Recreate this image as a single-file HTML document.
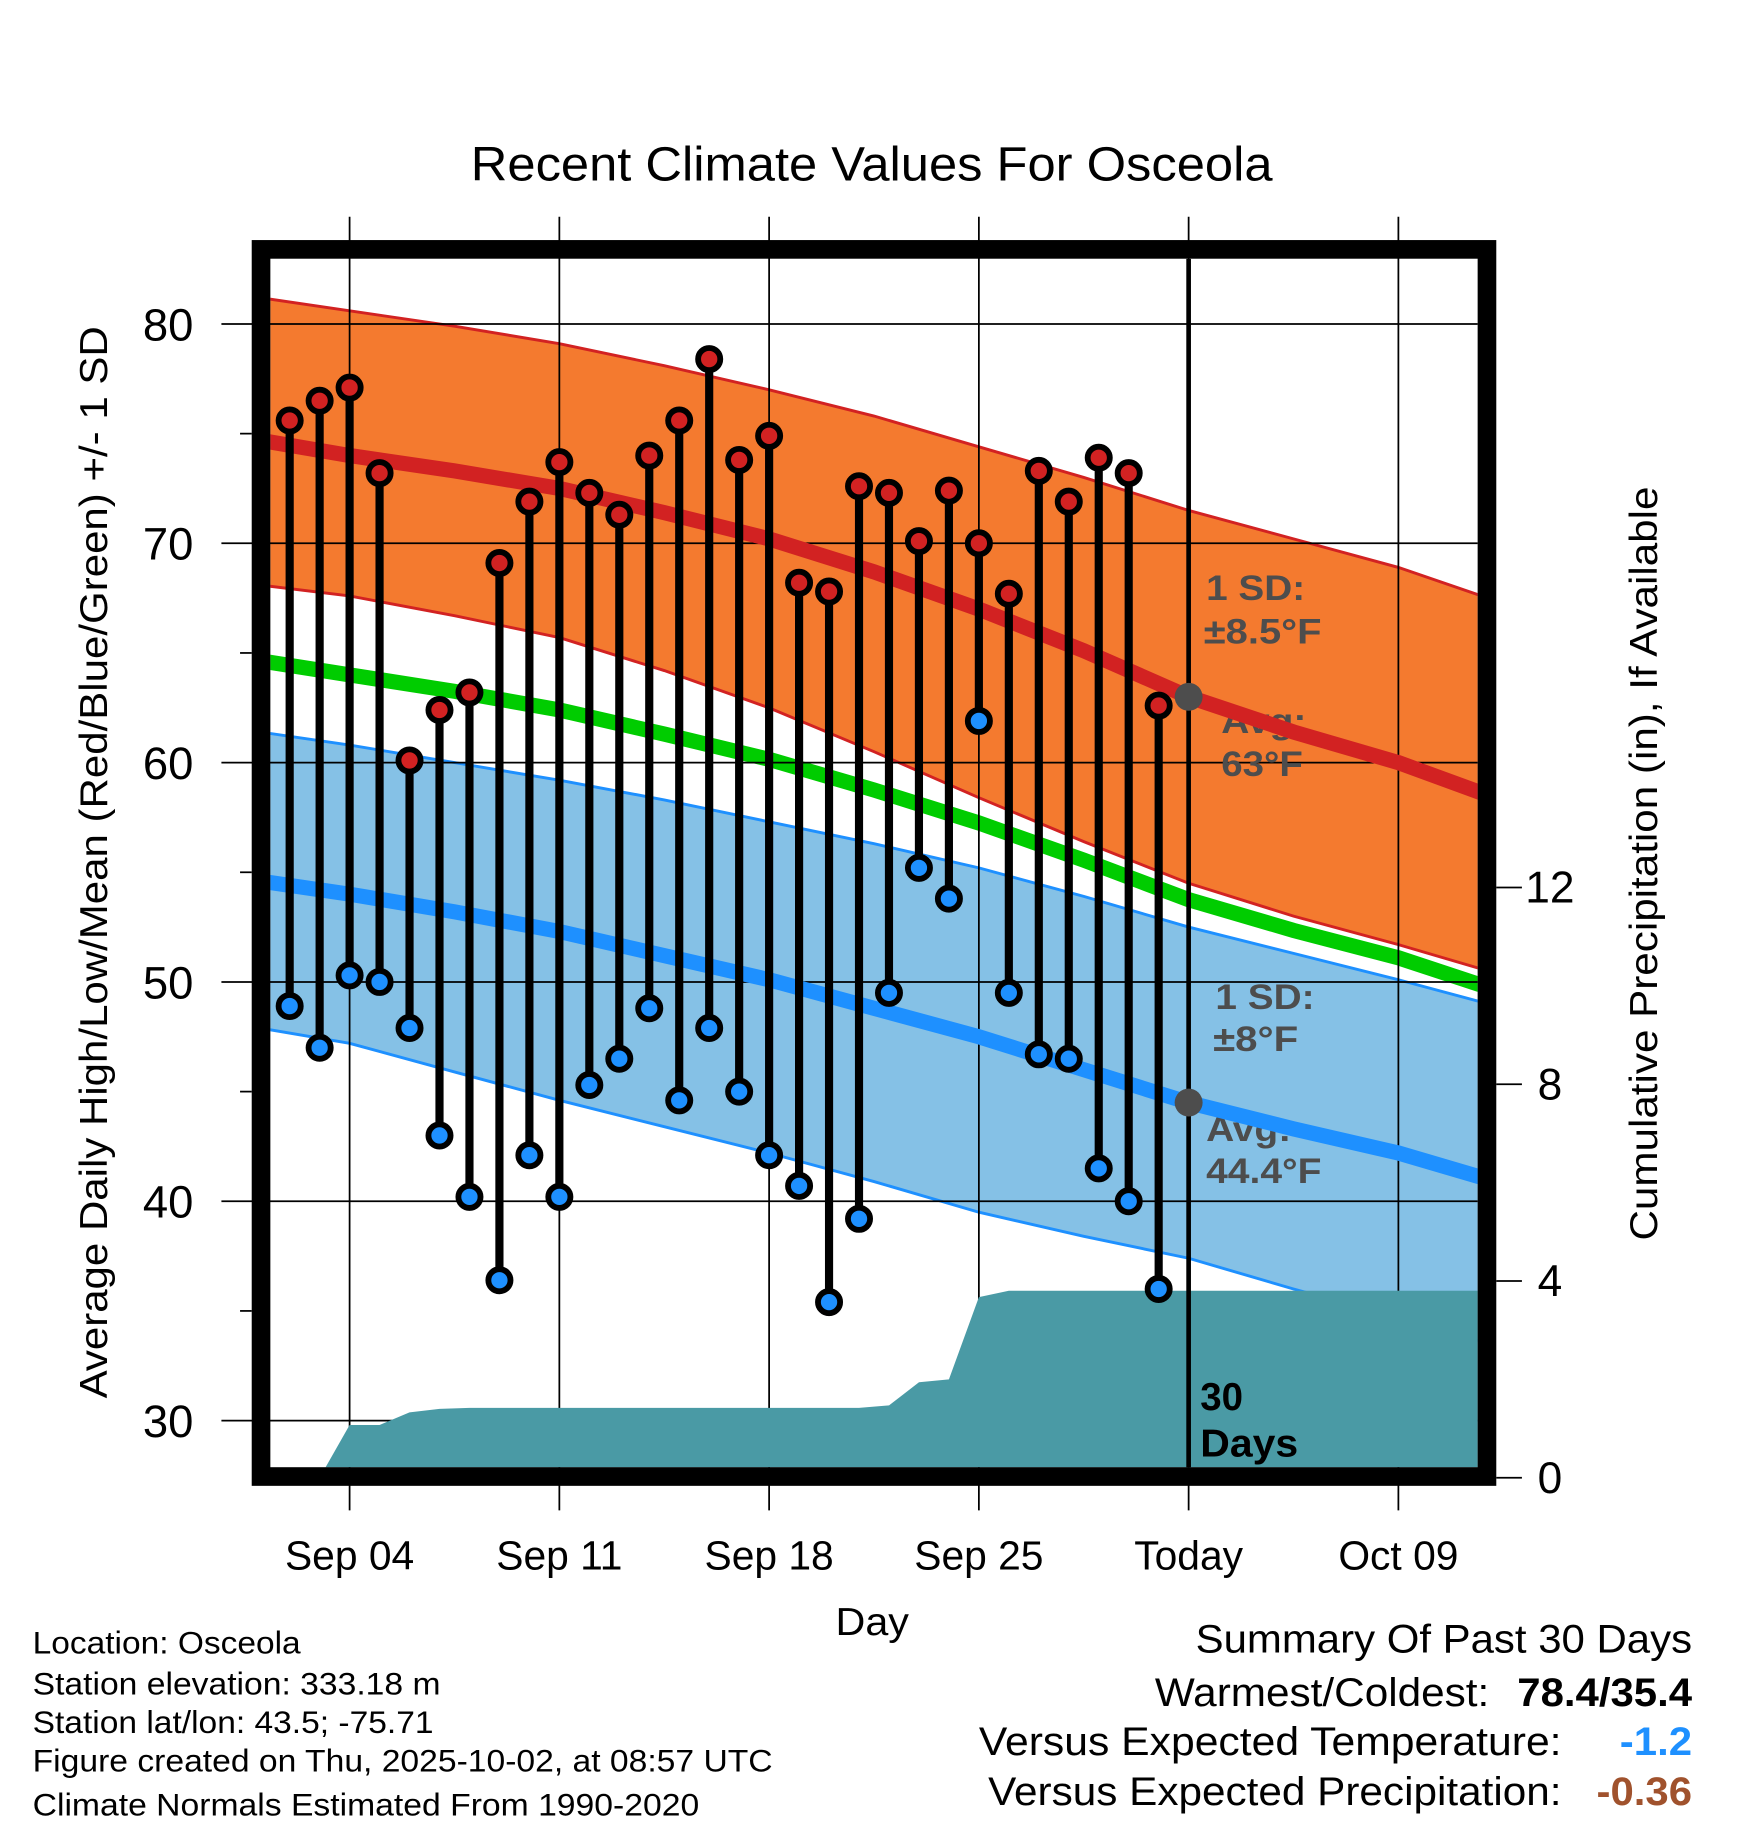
<!DOCTYPE html>
<html><head><meta charset="utf-8"><style>
html,body{margin:0;padding:0;background:#fff;}
svg{display:block;font-family:"Liberation Sans",Arial,sans-serif;}
</style></head><body>
<svg id="chart" width="1748" height="1828" viewBox="0 0 1500 1568.6" preserveAspectRatio="none" xmlns="http://www.w3.org/2000/svg">
<defs><clipPath id="plotclip"><rect x="232" y="222" width="1036" height="1037"/></clipPath></defs>
<text x="404" y="155" font-size="41" textLength="688" lengthAdjust="spacingAndGlyphs">Recent Climate Values For Osceola</text>
<g id="bands" clip-path="url(#plotclip)"></g>
<g id="grid"></g>
<g id="precip" clip-path="url(#plotclip)"></g>
<g id="annot" font-weight="bold" font-size="30" fill="#4d4d4d">
<text x="1035" y="515" textLength="85" lengthAdjust="spacingAndGlyphs">1 SD:</text>
<text x="1033" y="552" textLength="101" lengthAdjust="spacingAndGlyphs">±8.5°F</text>
<text x="1048" y="629" textLength="73" lengthAdjust="spacingAndGlyphs">Avg:</text>
<text x="1048" y="666" textLength="70" lengthAdjust="spacingAndGlyphs">63°F</text>
<text x="1043" y="866" textLength="85" lengthAdjust="spacingAndGlyphs">1 SD:</text>
<text x="1041" y="902" textLength="73" lengthAdjust="spacingAndGlyphs">±8°F</text>
<text x="1035" y="979" textLength="73" lengthAdjust="spacingAndGlyphs">Avg:</text>
<text x="1035" y="1015" textLength="99" lengthAdjust="spacingAndGlyphs">44.4°F</text>
</g>
<g id="lines" clip-path="url(#plotclip)"></g>
<g id="marks"></g>
<rect x="224" y="214" width="1052" height="1053" fill="none" stroke="#000" stroke-width="16"/>
<text x="1030" y="1210" font-size="33" font-weight="bold">30</text>
<text x="1030" y="1250" font-size="33" font-weight="bold" textLength="84" lengthAdjust="spacingAndGlyphs">Days</text>
<text x="717" y="1403" font-size="33" textLength="63" lengthAdjust="spacingAndGlyphs">Day</text>
<text transform="translate(92,740) rotate(-90)" font-size="33" text-anchor="middle" textLength="920" lengthAdjust="spacingAndGlyphs">Average Daily High/Low/Mean (Red/Blue/Green) +/- 1 SD</text>
<text transform="translate(1422,741) rotate(-90)" font-size="33" text-anchor="middle" textLength="647" lengthAdjust="spacingAndGlyphs">Cumulative Precipitation (in), If Available</text>
<g font-size="27">
<text x="28" y="1419" textLength="230" lengthAdjust="spacingAndGlyphs">Location: Osceola</text>
<text x="28" y="1454" textLength="350" lengthAdjust="spacingAndGlyphs">Station elevation: 333.18 m</text>
<text x="28" y="1487" textLength="344" lengthAdjust="spacingAndGlyphs">Station lat/lon: 43.5; -75.71</text>
<text x="28" y="1520" textLength="635" lengthAdjust="spacingAndGlyphs">Figure created on Thu, 2025-10-02, at 08:57 UTC</text>
<text x="28" y="1558" textLength="572" lengthAdjust="spacingAndGlyphs">Climate Normals Estimated From 1990-2020</text>
</g>
<g font-size="34">
<text x="1026" y="1418" textLength="426" lengthAdjust="spacingAndGlyphs">Summary Of Past 30 Days</text>
<text x="991" y="1464" textLength="287" lengthAdjust="spacingAndGlyphs">Warmest/Coldest:</text>
<text x="1302" y="1464" font-weight="bold" textLength="150" lengthAdjust="spacingAndGlyphs">78.4/35.4</text>
<text x="840" y="1506" textLength="500" lengthAdjust="spacingAndGlyphs">Versus Expected Temperature:</text>
<text x="1390" y="1506" font-weight="bold" fill="#1e90ff" textLength="62" lengthAdjust="spacingAndGlyphs">-1.2</text>
<text x="848" y="1549" textLength="492" lengthAdjust="spacingAndGlyphs">Versus Expected Precipitation:</text>
<text x="1370" y="1549" font-weight="bold" fill="#a0522d" textLength="82" lengthAdjust="spacingAndGlyphs">-0.36</text>
</g>
</svg>
<script>
// day offsets relative to Sep 04
const days = [-2,-1,0,1,2,3,4,5,6,7,8,9,10,11,12,13,14,15,16,17,18,19,20,21,22,23,24,25,26,27];
const highs = [75.6,76.5,77.1,73.2,60.1,62.4,63.2,69.1,71.9,73.7,72.3,71.3,74.0,75.6,78.4,73.8,74.9,68.2,67.8,72.6,72.3,70.1,72.4,70.0,67.7,73.3,71.9,73.9,73.2,62.6];
const lows = [48.9,47.0,50.3,50.0,47.9,43.0,40.2,36.4,42.1,40.2,45.3,46.5,48.8,44.6,47.9,45.0,42.1,40.7,35.4,39.2,49.5,55.2,53.8,61.9,49.5,46.7,46.5,41.5,40.0,36.0];
const normDays = [-3,0,3.5,7,10.5,14,17.5,21,24.5,28,31.5,35,38];
const highUpper = [81.2,80.6,79.9,79.1,78.1,77.0,75.8,74.4,73.0,71.5,70.2,68.9,67.5];
const highMean = [74.7,74.0,73.3,72.5,71.4,70.2,68.7,67.0,65.1,63.0,61.4,60.0,58.5];
const highLower = [68.1,67.6,66.7,65.7,64.2,62.5,60.5,58.4,56.4,54.5,53.0,51.7,50.5];
const lowUpper = [61.4,60.8,60.0,59.2,58.3,57.3,56.3,55.2,53.9,52.5,51.3,50.1,49.0];
const lowMean = [54.6,54.0,53.2,52.3,51.2,50.1,48.8,47.5,46.0,44.5,43.3,42.2,41.0];
const lowLower = [47.9,47.2,45.9,44.6,43.4,42.2,40.9,39.5,38.4,37.4,36.0,34.7,33.5];
const precipDays = [-1,0,1,2,3,4,17,18,19,20,21,22,27,38];
const precipVals = [0,1.07,1.07,1.33,1.40,1.42,1.42,1.47,1.94,2.0,3.67,3.80,3.80,3.80];
const tempTicks = [30,40,50,60,70,80];
const minorTicks = [35,45,55,65,75];
const precipTicks = [0,4,8,12];
const xTickDays = [0,7,14,21,28,35];
const xTickLabels = ["Sep 04","Sep 11","Sep 18","Sep 25","Today","Oct 09"];
const todayDay = 28;

const NS='http://www.w3.org/2000/svg';
const X = d => 300 + d*25.714;
const Y = t => 278 + (80 - t)*18.82;
const P = p => 1268 - p*42.2;
function mk(tag, attrs, parent){const e=document.createElementNS(NS,tag);for(const k in attrs)e.setAttribute(k,attrs[k]);document.getElementById(parent).appendChild(e);return e;}
function pts(ds, vs){return ds.map((d,i)=>X(d).toFixed(1)+','+Y(vs[i]).toFixed(1));}
function band(up, lo){return pts(normDays,up).concat(pts(normDays,lo).reverse()).join(' ');}

let e;
e = mk('polygon',{points:band(highUpper,highLower),fill:'#f47a2f'},'bands');


e = mk('polyline',{points:pts(normDays,highUpper).join(' '),fill:'none',stroke:'#d22222','stroke-width':2.5},'bands');


e = mk('polyline',{points:pts(normDays,highLower).join(' '),fill:'none',stroke:'#d22222','stroke-width':2.5},'bands');


e = mk('polygon',{points:band(lowUpper,lowLower),fill:'#85c1e6'},'bands');


e = mk('polyline',{points:pts(normDays,lowUpper).join(' '),fill:'none',stroke:'#1e90ff','stroke-width':2.5},'bands');


e = mk('polyline',{points:pts(normDays,lowLower).join(' '),fill:'none',stroke:'#1e90ff','stroke-width':2.5},'bands');


const meanVals = highMean.map((h,i)=>(h+lowMean[i])/2);
e = mk('polyline',{points:pts(normDays,meanVals).join(' '),fill:'none',stroke:'#00cc00','stroke-width':13},'bands');



// grid
tempTicks.forEach(t=>{
  e = mk('line',{x1:190,x2:1268,y1:Y(t),y2:Y(t),stroke:'#000','stroke-width':1.5},'grid');
  
  
  e = mk('text',{x:166,y:Y(t)+14,'font-size':39,'text-anchor':'end'},'grid');
  e.textContent=t;
  
  
});
minorTicks.forEach(t=>{
  e = mk('line',{x1:206,x2:216,y1:Y(t),y2:Y(t),stroke:'#000','stroke-width':1.5},'grid');
  
  
});
precipTicks.forEach(p=>{
  e = mk('line',{x1:1284,x2:1306,y1:P(p),y2:P(p),stroke:'#000','stroke-width':1.5},'grid');
  
  
  e = mk('text',{x:1330,y:P(p)+13,'font-size':38,'text-anchor':'middle'},'grid');
  e.textContent=p;
  
  
});
xTickDays.forEach((d,i)=>{
  e = mk('line',{x1:X(d),x2:X(d),y1:186,y2:1296,stroke:'#000','stroke-width':1.5},'grid');
  
  
  e = mk('text',{x:X(d),y:1347,'font-size':35,'text-anchor':'middle'},'grid');
  e.textContent=xTickLabels[i];
  
  
});

// precip
const pp = precipDays.map((d,i)=>X(d).toFixed(1)+','+P(precipVals[i]).toFixed(1));
pp.push(X(precipDays[precipDays.length-1]).toFixed(1)+',1270');
pp.push(X(precipDays[0]).toFixed(1)+',1270');
e = mk('polygon',{points:pp.join(' '),fill:'#4a9aa5'},'precip');



// mean lines
e = mk('polyline',{points:pts(normDays,highMean).join(' '),fill:'none',stroke:'#d22222','stroke-width':13},'lines');


e = mk('polyline',{points:pts(normDays,lowMean).join(' '),fill:'none',stroke:'#1e90ff','stroke-width':13},'lines');


e = mk('line',{x1:X(todayDay),x2:X(todayDay),y1:222,y2:1260,stroke:'#000','stroke-width':4},'lines');


const hIdx = normDays.indexOf(todayDay);
e = mk('circle',{cx:X(todayDay),cy:Y(highMean[hIdx]),r:12,fill:'#4d4d4d'},'lines');


e = mk('circle',{cx:X(todayDay),cy:Y(lowMean[hIdx]),r:12,fill:'#4d4d4d'},'lines');



// stems and points
days.forEach((d,i)=>{
  e = mk('line',{x1:X(d),x2:X(d),y1:Y(highs[i]),y2:Y(lows[i]),stroke:'#000','stroke-width':7},'marks');
  
  
});
days.forEach((d,i)=>{
  e = mk('circle',{cx:X(d),cy:Y(highs[i]),r:9.5,fill:'#d22222',stroke:'#000','stroke-width':5},'marks');
  
  
  e = mk('circle',{cx:X(d),cy:Y(lows[i]),r:9.5,fill:'#1e90ff',stroke:'#000','stroke-width':5},'marks');
  
  
});
</script>
</body></html>
